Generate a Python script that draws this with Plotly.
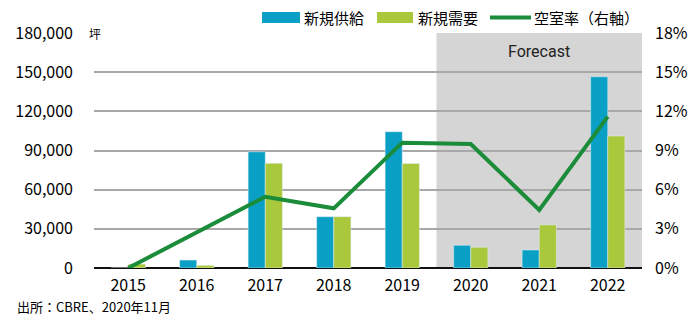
import plotly.graph_objects as go

years = ["2015", "2016", "2017", "2018", "2019", "2020", "2021", "2022"]
supply = [0, 6100, 89000, 39300, 104400, 17400, 13800, 146500]
demand = [3000, 2000, 80200, 39300, 80000, 15900, 33000, 101100]
vacancy = [0.0, 2.7, 5.46, 4.57, 9.6, 9.5, 4.44, 11.6]
left_ticks = [0, 30000, 60000, 90000, 120000, 150000, 180000]
right_ticks = [0, 3, 6, 9, 12, 15, 18]

C_SUP = "#0aa0c6"
C_DEM = "#a9c83c"
C_LINE = "#1b8c3a"
FONT = "Noto Sans CJK JP"

W, H = 700, 325
L, R, T, B = 94, 58, 33, 57
PW, PH = W - L - R, H - T - B

def px(x):
    return (x - L) / PW

def py(y):
    return (H - B - y) / PH

fig = go.Figure()
fig.add_trace(go.Bar(x=years, y=supply, marker_color=C_SUP, name="新規供給"))
fig.add_trace(go.Bar(x=years, y=demand, marker_color=C_DEM, name="新規需要"))
fig.add_trace(go.Scatter(x=years, y=vacancy, yaxis="y2", mode="lines",
                         line=dict(color=C_LINE, width=4), name="空室率（右軸）"))

fig.update_layout(
    width=W, height=H,
    margin=dict(l=L, r=R, t=T, b=B),
    paper_bgcolor="white", plot_bgcolor="rgba(0,0,0,0)",
    showlegend=False,
    barmode="group", bargap=0.5, bargroupgap=0,
    font=dict(family=FONT, size=15, color="#000"),
    xaxis=dict(type="category", showgrid=False, showline=False, ticks="",
               tickfont=dict(size=16), ticklabelstandoff=6),
    yaxis=dict(range=[0, 180000], tickvals=left_ticks,
               ticktext=[f"{v:,}" for v in left_ticks],
               showgrid=True, gridcolor="#a8a8a8", gridwidth=1.5,
               zeroline=True, zerolinecolor="#111", zerolinewidth=1.5,
               ticks="", tickfont=dict(size=16), ticklabelstandoff=20),
    yaxis2=dict(range=[0, 18], tickvals=right_ticks,
                ticktext=[f"{v}%" for v in right_ticks],
                overlaying="y", side="right", showgrid=False, zeroline=False,
                ticks="", tickfont=dict(size=16), ticklabelstandoff=12),
)

# Forecast shading
fig.add_shape(type="rect", xref="x", yref="paper", x0=4.5, x1=7.5, y0=0, y1=1,
              fillcolor="#d5d5d5", line=dict(width=0), layer="below")
fig.add_annotation(text="Forecast", xref="x", yref="paper", x=6.0, y=py(51),
                   yanchor="middle", showarrow=False,
                   font=dict(family="Liberation Sans Narrow, Roboto", size=16, color="#222"))

# Unit label
fig.add_annotation(text="坪", xref="paper", yref="paper", x=px(87), y=1,
                   yanchor="middle", showarrow=False,
                   font=dict(size=12), bgcolor="white", borderpad=1)

# Custom legend
ly = py(17.5)
fig.add_shape(type="rect", xref="paper", yref="paper", x0=px(262), x1=px(300),
              y0=py(23), y1=py(12), fillcolor=C_SUP, line=dict(width=0))
fig.add_annotation(text="新規供給", xref="paper", yref="paper", x=px(302), y=ly,
                   xanchor="left", yanchor="middle", showarrow=False, font=dict(size=15))
fig.add_shape(type="rect", xref="paper", yref="paper", x0=px(377), x1=px(413),
              y0=py(23), y1=py(12), fillcolor=C_DEM, line=dict(width=0))
fig.add_annotation(text="新規需要", xref="paper", yref="paper", x=px(416), y=ly,
                   xanchor="left", yanchor="middle", showarrow=False, font=dict(size=15))
fig.add_shape(type="line", xref="paper", yref="paper", x0=px(490), x1=px(531),
              y0=ly, y1=ly, line=dict(color=C_LINE, width=4))
fig.add_annotation(text="空室率（右軸）", xref="paper", yref="paper", x=px(532), y=ly,
                   xanchor="left", yanchor="middle", showarrow=False, font=dict(size=15))

# Source
fig.add_annotation(text="出所：CBRE、2020年11月", xref="paper", yref="paper",
                   x=px(15), y=py(306), xanchor="left", yanchor="middle", showarrow=False,
                   font=dict(size=13))

fig.write_html("out.html")
